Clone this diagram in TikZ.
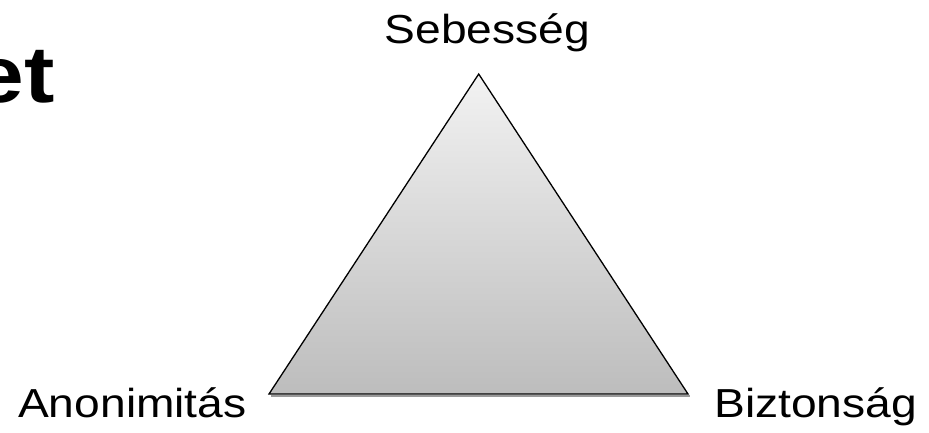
\documentclass[tikz,border=0pt]{standalone}
\usepackage{fontspec}
\setmainfont{Liberation Sans}
\newfontfamily\widefont[FakeStretch=1.14]{Liberation Sans}
\tikzset{
  corner/.style={font=\widefont\fontsize{40.5}{48}\selectfont, inner sep=0pt},
}
\begin{document}
\begin{tikzpicture}[x=1pt,y=-1pt]
\useasboundingbox (0,0) rectangle (929,432);
% corners of the triangle
\coordinate (top) at (478.7,74);
\coordinate (left) at (269,394);
\coordinate (right) at (688,394);
% shadow under the base
\draw[black!40, line width=2.2pt] ([shift={(2,1.8)}]left) -- ([shift={(2,1.8)}]right);
\shade[top color=black!5, bottom color=black!26] (top) -- (left) -- (right) -- cycle;
\draw[line width=1.3pt, line join=miter] (top) -- (left) -- (right) -- cycle;
% labels
\node[corner, anchor=base] (speed) at (487.5,43) {Sebesség};
\node[corner, anchor=base west] (anon) at (18,417) {Anonimitás};
\node[corner, anchor=base west] (safe) at (714,417) {Biztonság};
\node[font=\widefont\bfseries\fontsize{80}{90}\selectfont, inner sep=0pt, anchor=base east] (title) at (55,102) {et};
\end{tikzpicture}
\end{document}
